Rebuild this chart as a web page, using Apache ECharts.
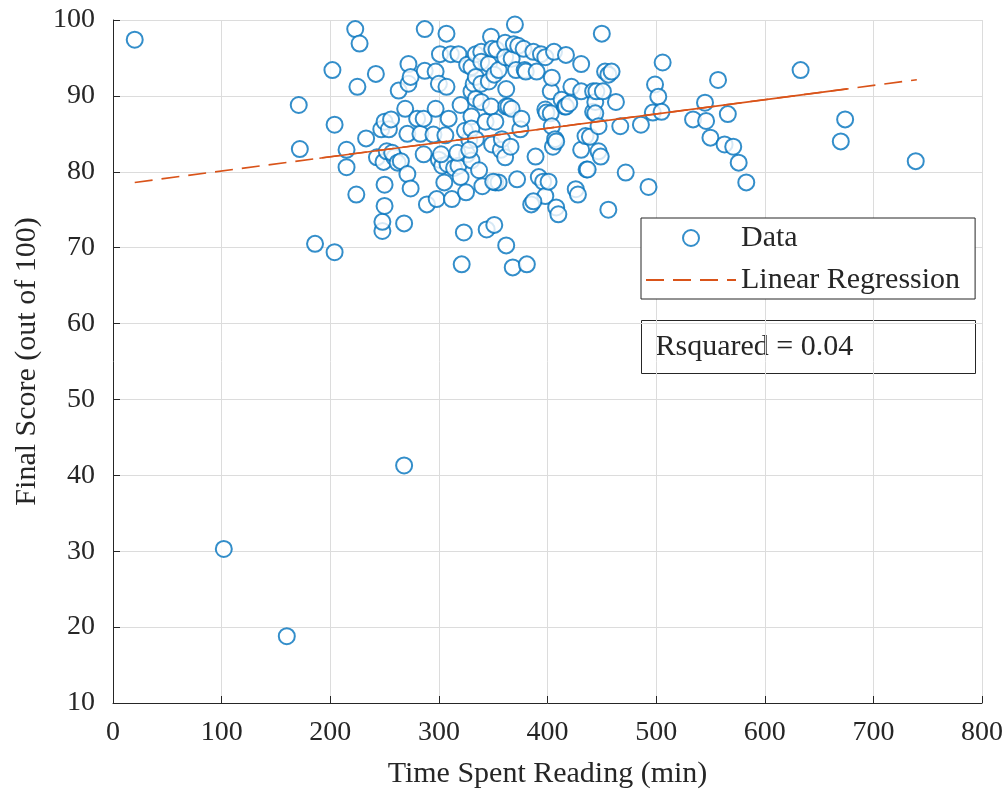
<!DOCTYPE html>
<html>
<head>
<meta charset="utf-8">
<title>Final Score vs Time Spent Reading</title>
<script src="https://cdn.jsdelivr.net/npm/echarts@6/dist/echarts.min.js"></script>
<style>
  html, body { margin: 0; padding: 0; background: #fff; }
  #main { width: 1006px; height: 794px; }
</style>
</head>
<body>
<div id="main"></div>
<script>
// time spent reading (min), final score (out of 100)
var timeSpent = [
  20, 102, 160, 171, 172, 186, 204, 204, 202, 215, 215, 224, 225, 223, 227, 242, 233, 268,
  243, 247, 248, 248, 250, 250, 250, 249, 252, 254, 256, 259, 257, 262, 265, 263, 268, 271,
  274, 269, 272, 272, 274, 271, 280, 283, 286, 286, 287, 287, 289, 295, 297, 297, 298, 300,
  300, 301,
  303, 305, 306, 307, 307, 308, 309, 311, 312, 314, 318, 318, 320, 320, 321, 323, 325, 326,
  326, 328, 324, 330, 330, 330, 330, 330, 332, 334, 334, 334, 334, 337, 339, 339, 339, 339,
  340, 343, 344, 346, 346, 348, 348, 349, 349, 302, 317, 328,
  351, 351, 352, 352, 353, 355, 355, 357, 358, 361, 361, 361, 362, 362, 362, 364, 366, 367,
  367, 368, 369, 370, 371, 372, 373, 375, 376, 378, 379, 380, 381, 385, 387, 389, 390, 392,
  394, 396, 398, 398, 399, 350, 398, 401, 387,
  403, 403, 404, 404, 405, 406, 407, 408, 408, 410, 413, 416, 417, 417, 420, 422, 426, 428,
  431, 431, 431, 435, 436, 439, 442, 442, 444, 444, 445, 447, 447, 449, 450, 451, 453, 456,
  456, 459, 437,
  463, 467, 472, 486, 493, 497, 499, 502, 505, 506, 534, 545, 546, 550, 557, 563, 566, 571,
  576, 583,
  633, 670, 674, 739
];
var finalScore = [
  97.4, 30.3, 18.8, 88.8, 83.0, 70.5, 69.4, 86.2, 93.4, 80.6, 82.9, 77.0, 91.2, 98.8, 96.9, 92.9, 84.4, 41.3,
  81.9, 85.6, 72.2, 73.4, 75.5, 78.3, 86.6, 81.3, 82.7, 85.6, 86.9, 81.9, 82.5, 81.2, 81.4, 90.7, 73.2, 79.7,
  77.8, 88.3, 91.6, 94.2, 92.5, 85.0, 87.0, 85.0, 87.0, 82.3, 98.8, 93.3, 75.7, 84.9, 93.2, 88.3, 76.4, 91.6,
  81.6, 95.5,
  80.8, 78.6, 84.8, 98.2, 91.2, 81.0, 87.0, 95.5, 76.4, 80.5, 95.5, 80.8, 88.8, 79.3, 67.8, 72.0, 77.3, 94.1,
  82.3, 84.2, 85.4, 81.5, 93.8, 90.6, 87.3, 85.7, 91.6, 95.5, 92.5, 89.6, 84.3, 80.2, 95.8, 94.5, 91.6, 89.2,
  78.1, 86.6, 72.4, 94.2, 91.9, 97.8, 88.6, 96.2, 83.6, 82.3, 82.5, 82.9,
  73.0, 92.8, 86.6, 78.6, 96.1, 93.4, 78.6, 82.9, 84.3, 97.0, 95.1, 81.9, 90.9, 88.6, 70.3, 88.6, 83.3, 94.9,
  88.3, 67.4, 96.8, 99.4, 93.4, 79.0, 96.6, 85.6, 87.0, 96.2, 93.4, 93.2, 67.8, 75.7, 95.8, 82.0, 93.2, 79.3,
  95.5, 78.7, 95.1, 88.2, 87.8, 78.7, 76.8, 78.7, 76.1,
  90.6, 87.7, 92.4, 86.0, 83.3, 95.8, 84.3, 84.0, 75.3, 74.4, 89.5, 88.6, 95.4, 88.6, 89.0, 91.2, 77.7, 77.0,
  94.2, 90.6, 82.9, 84.7, 80.3, 84.6, 90.6, 87.9, 89.2, 87.7, 90.6, 86.0, 82.7, 82.0, 98.2, 90.6, 93.2, 92.8,
  75.0, 93.2, 80.3,
  89.2, 86.0, 79.9, 86.2, 78.0, 87.8, 91.5, 89.9, 87.9, 94.4, 86.9, 89.1, 86.7, 84.5, 92.1, 83.6, 87.6, 83.3,
  81.2, 78.6,
  93.4, 84.0, 86.9, 81.4
];

// regression line y = b0 + b1 * x
var fitCoef = [78.22, 0.0188];
var fitRange = [20, 740];
var solidRange = [190, 676];   // where the dashes overlap into a solid stroke
var rSquared = 0.04;

var xTicks = { min: 0, max: 800, step: 100 };
var yTicks = { min: 10, max: 100, step: 10 };

var points = timeSpent.map(function (t, i) { return [t, finalScore[i]]; });
function fitLine(range) {
  return range.map(function (x) { return [x, fitCoef[0] + fitCoef[1] * x]; });
}

var textColor = '#262626';
var serif = 'Liberation Serif';

var chart = echarts.init(document.getElementById('main'));
var option = {
  animation: false,
  backgroundColor: '#fff',
  textStyle: { fontFamily: serif },
  grid: { left: 113, right: 20, top: 20, bottom: 88, containLabel: false },
  legend: {
    orient: 'vertical',
    left: 641,
    top: 218,
    data: [
      { name: 'Data' },
      { name: 'Linear Regression', itemStyle: { opacity: 0 } }
    ],
    itemWidth: 90,
    itemHeight: 16,
    itemGap: 8,
    padding: [3, 15, 2, 4],
    borderColor: textColor,
    borderWidth: 1,
    backgroundColor: '#fff',
    textStyle: { fontFamily: serif, fontSize: 30, color: textColor, lineHeight: 34 }
  },
  xAxis: {
    type: 'value',
    min: xTicks.min,
    max: xTicks.max,
    interval: xTicks.step,
    name: 'Time Spent Reading (min)',
    nameLocation: 'middle',
    nameGap: 56,
    nameTextStyle: { fontFamily: serif, fontSize: 30, color: textColor },
    axisLine: { show: true, onZero: false, lineStyle: { color: textColor, width: 1 } },
    axisTick: { show: true, inside: true, length: 7, lineStyle: { color: textColor } },
    axisLabel: { fontFamily: serif, fontSize: 28, color: textColor, margin: 16 },
    splitLine: { show: true, lineStyle: { color: '#dcdcdc', width: 1 } }
  },
  yAxis: {
    type: 'value',
    min: yTicks.min,
    max: yTicks.max,
    interval: yTicks.step,
    name: 'Final Score (out of 100)',
    nameLocation: 'middle',
    nameGap: 70,
    nameTextStyle: { fontFamily: serif, fontSize: 30, color: textColor },
    axisLine: { show: true, onZero: false, lineStyle: { color: textColor, width: 1 } },
    axisTick: { show: true, inside: true, length: 7, lineStyle: { color: textColor } },
    axisLabel: { fontFamily: serif, fontSize: 28, color: textColor, margin: 18 },
    splitLine: { show: true, lineStyle: { color: '#dcdcdc', width: 1 } }
  },
  series: [
    {
      name: 'Data',
      type: 'scatter',
      symbol: 'emptyCircle',
      symbolSize: 16,
      itemStyle: { color: '#0072BD', borderColor: '#0072BD', borderWidth: 1.5 },
      data: points,
      z: 3
    },
    {
      name: 'Linear Regression',
      type: 'line',
      symbol: 'none',
      color: '#D95319',
      lineStyle: { color: '#D95319', width: 1.6, type: [18, 9] },
      data: fitLine(fitRange),
      z: 4
    },
    {
      name: 'fitSolid',
      type: 'line',
      symbol: 'none',
      lineStyle: { color: '#D95319', width: 1.6 },
      data: fitLine(solidRange),
      z: 4
    }
  ],
  graphic: [
    {
      type: 'group',
      left: 641,
      top: 320,
      children: [
        {
          type: 'rect',
          shape: { x: 0, y: 0, width: 334, height: 53 },
          style: { fill: '#fff', stroke: textColor, lineWidth: 1 }
        },
        {
          type: 'text',
          x: 14,
          y: 27,
          style: {
            text: 'Rsquared = ' + rSquared.toFixed(2),
            font: '30px "Liberation Serif"',
            fill: textColor,
            verticalAlign: 'middle'
          }
        }
      ]
    }
  ]
};
chart.setOption(option);
</script>
</body>
</html>
